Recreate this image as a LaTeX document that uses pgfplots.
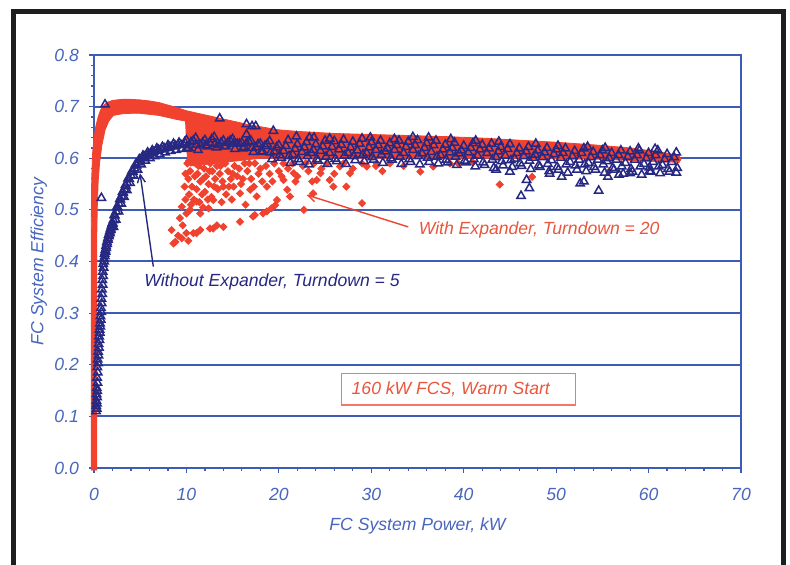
\documentclass[border=0pt]{standalone}
\usepackage{fontspec}
\setmainfont{Liberation Sans}
\usepackage{pgfplots}
\pgfplotsset{compat=1.18}
\usetikzlibrary{arrows.meta}
\definecolor{axisblue}{RGB}{62,92,182}
\definecolor{lblblue}{RGB}{72,102,190}
\definecolor{navy}{RGB}{38,40,130}
\definecolor{fcred}{RGB}{240,66,46}
\definecolor{txtred}{RGB}{235,85,60}
\definecolor{boxred}{RGB}{242,120,100}
\definecolor{framec}{RGB}{30,30,30}
\newcommand{\lblfont}{\fontsize{8.8}{10}\selectfont\itshape}
\pgfplotsset{bluetri/.style={only marks, mark=triangle, mark size=2.4pt, mark options={draw=navy, line width=0.75pt}}}
\begin{document}
\begin{tikzpicture}
\useasboundingbox (0pt,0pt) rectangle (395pt,282.5pt);
\fill[white] (0pt,0pt) rectangle (395pt,282.5pt);
\draw[framec, line width=2.5pt] (6.75pt,-3pt) -- (6.75pt,276.75pt) -- (391.65pt,276.75pt) -- (391.65pt,-3pt);
\begin{axis}[
  at={(47pt,48.5pt)}, anchor=south west,
  scale only axis, width=323.5pt, height=206.5pt,
  xmin=0, xmax=70, ymin=0, ymax=0.8,
  clip=false,
  xtick={0,10,20,30,40,50,60,70}, ytick={0,0.1,0.2,0.3,0.4,0.5,0.6,0.7,0.8},
  minor x tick num=4, minor y tick num=4,
  tick pos=left, tick align=outside,
  major tick length=2.5pt, minor tick length=1.5pt,
  every tick/.style={axisblue, line width=0.6pt},
  axis line style={axisblue, line width=1.1pt},
  ymajorgrids=true,
  major grid style={axisblue, line width=1pt},
  /pgf/number format/assume math mode=true,
  ticklabel style={font=\lblfont, text=lblblue},
  yticklabel style={/pgf/number format/.cd, fixed, fixed zerofill, precision=1, /tikz/.cd, xshift=-1.5pt},
  xticklabel style={yshift=-4pt},
  xlabel={FC System Power, kW},
  ylabel={FC System Efficiency},
  xlabel style={at={(axis description cs:0.5,-0.1508)}, anchor=base, font=\lblfont, text=lblblue},
  ylabel style={at={(axis description cs:-0.0784,0.5)}, anchor=base, font=\lblfont, text=lblblue},
]
% red dense band (With Expander)
\addplot[fill=fcred, draw=fcred, line width=0.4pt] coordinates {
(-0.3,-0.004) (-0.3,0.46) (-0.25,0.56) (-0.15,0.61) (0.0,0.64) (0.2,0.662) (0.45,0.68) (0.7,0.693)
(1.0,0.702) (1.5,0.709) (2,0.712) (3,0.714) (4,0.714) (5,0.713) (6,0.711) (7,0.708) (8,0.703)
(9,0.698) (10,0.692) (11,0.688) (12,0.684) (13,0.680) (14,0.676) (15,0.672) (16,0.668) (17,0.664)
(18,0.661) (19,0.658) (20,0.655) (22,0.652) (24,0.650) (26,0.648) (28,0.647) (30,0.646) (34,0.644)
(38,0.642) (42,0.639) (46,0.635) (50,0.631) (54,0.626) (58,0.620) (60,0.615) (62,0.610) (63.3,0.605)
(63.5,0.598) (63.3,0.592) (55,0.598) (45,0.600) (35,0.600) (25,0.600) (18,0.600) (13,0.590)
(10.4,0.585) (10.1,0.600) (9.9,0.672) (9,0.675) (8,0.679) (7,0.683) (6,0.685) (5,0.687) (4,0.687)
(3,0.686) (2.1,0.683) (1.6,0.672) (1.2,0.655) (0.85,0.625) (0.6,0.590) (0.45,0.555) (0.35,0.500)
(0.3,0.450) (0.3,-0.004)
} -- cycle;
% red scatter
\addplot[only marks, mark=square*, mark size=1.25pt, mark options={rotate=45, fill=fcred, draw=fcred}] table {
x y
8.4 0.461
8.6 0.435
8.8 0.438
9.1 0.450
9.5 0.445
9.3 0.484
9.6 0.470
10.0 0.455
10.2 0.440
10.75 0.455
11.1 0.455
11.5 0.461
12.55 0.464
12.9 0.464
13.3 0.470
14.0 0.467
15.8 0.477
17.2 0.487
17.4 0.490
18.3 0.493
18.7 0.497
19.2 0.503
19.6 0.509
19.8 0.519
20.9 0.539
21.2 0.526
22.7 0.500
23.7 0.532
24.1 0.558
29.0 0.513
9.5 0.506
10.0 0.493
10.4 0.500
11.1 0.516
11.5 0.493
12.4 0.503
12.9 0.519
13.3 0.542
15.1 0.545
15.8 0.532
16.9 0.539
17.6 0.526
18.7 0.545
20.5 0.558
21.6 0.571
23.6 0.555
24.5 0.571
25.5 0.558
25.9 0.545
26.6 0.584
27.7 0.571
27.3 0.545
29.5 0.584
30.6 0.590
10.1 0.590
10.4 0.575
10.2 0.560
10.6 0.545
10.3 0.530
10.8 0.520
10.5 0.510
11.0 0.590
11.2 0.570
11.5 0.555
11.1 0.540
11.7 0.530
11.4 0.515
11.9 0.580
12.1 0.565
12.4 0.550
12.0 0.535
12.6 0.590
12.8 0.575
13.1 0.560
12.7 0.525
13.3 0.585
13.6 0.570
13.9 0.555
13.4 0.540
14.2 0.590
14.5 0.575
14.8 0.560
14.3 0.530
15.2 0.585
15.5 0.565
15.9 0.550
16.3 0.590
16.6 0.575
17.0 0.560
17.4 0.590
17.8 0.570
18.2 0.555
18.6 0.585
19.0 0.570
19.5 0.590
20.0 0.575
20.5 0.590
21.0 0.580
21.5 0.590
22.0 0.565
22.6 0.585
23.2 0.575
23.8 0.590
24.6 0.580
25.2 0.590
26.0 0.570
27.0 0.590
28.0 0.580
29.0 0.590
30.5 0.585
31.2 0.575
32.0 0.590
33.5 0.585
35.3 0.574
36.7 0.584
38.5 0.590
39.4 0.590
41.0 0.592
43.9 0.549
47.4 0.564
55.7 0.574
9.9 0.570
9.8 0.545
9.9 0.520
10.3 0.595
10.9 0.565
11.3 0.585
11.8 0.560
12.2 0.595
12.5 0.575
13.0 0.545
13.7 0.585
14.0 0.545
14.6 0.545
15.0 0.570
15.7 0.580
16.1 0.560
16.8 0.590
17.3 0.545
18.0 0.580
19.3 0.555
20.3 0.565
21.8 0.555
22.9 0.590
13.8 0.515
12.3 0.520
11.8 0.505
14.9 0.520
16.4 0.510
};
% blue curve (Without Expander), x < 10
\addplot[bluetri] table {
x y
0.22 0.110
0.24 0.120
0.26 0.130
0.28 0.143
0.30 0.155
0.33 0.175
0.36 0.195
0.40 0.210
0.45 0.225
0.50 0.240
0.55 0.255
0.60 0.268
0.65 0.280
0.70 0.294
0.75 0.310
0.80 0.328
0.85 0.346
0.90 0.364
0.95 0.380
1.00 0.395
1.08 0.405
1.15 0.415
1.22 0.422
1.30 0.430
1.40 0.438
1.50 0.445
1.60 0.452
1.70 0.458
1.80 0.464
1.90 0.470
2.00 0.475
2.10 0.480
2.25 0.489
2.40 0.497
2.55 0.505
2.70 0.512
2.85 0.520
3.00 0.527
3.15 0.533
3.30 0.540
3.45 0.546
3.60 0.552
3.80 0.560
4.00 0.567
4.20 0.574
4.40 0.580
4.60 0.586
4.80 0.592
5.00 0.596
5.20 0.600
5.45 0.603
5.70 0.606
5.95 0.608
6.20 0.610
6.45 0.612
6.70 0.614
7.00 0.616
7.30 0.617
7.60 0.619
7.90 0.620
8.20 0.622
8.50 0.623
8.80 0.624
9.10 0.625
9.40 0.626
9.70 0.626
0.29 0.115
0.31 0.125
0.33 0.137
0.35 0.149
0.375 0.165
0.405 0.185
0.44 0.203
0.485 0.218
0.535 0.233
0.585 0.248
0.635 0.262
0.685 0.274
0.735 0.287
0.785 0.302
0.835 0.319
0.885 0.337
0.935 0.355
0.985 0.372
1.035 0.388
1.10 0.400
1.175 0.410
1.245 0.419
1.32 0.426
1.41 0.434
1.51 0.442
1.61 0.449
1.71 0.455
1.81 0.461
1.91 0.467
2.01 0.473
2.10 0.467
2.35 0.481
2.65 0.497
2.95 0.512
3.25 0.525
3.55 0.538
3.90 0.552
4.30 0.566
4.70 0.578
5.10 0.588
5.55 0.595
6.05 0.600
6.55 0.604
7.10 0.608
7.70 0.611
8.30 0.614
8.90 0.616
9.50 0.618
10.0 0.619
2.2 0.490
2.5 0.506
2.8 0.521
3.1 0.535
3.4 0.548
3.7 0.561
4.1 0.575
4.5 0.588
4.9 0.598
5.3 0.605
5.8 0.611
6.3 0.615
6.8 0.619
7.4 0.622
8.0 0.625
8.6 0.628
9.2 0.630
9.8 0.631
};
% blue band, x >= 10
\addplot[bluetri] table {
x y
10.1 0.619
11.1 0.626
12.1 0.625
13.1 0.628
14.1 0.623
15.1 0.628
16.1 0.619
17.1 0.620
18.1 0.612
19.1 0.611
20.1 0.606
21.1 0.604
22.1 0.598
23.1 0.604
24.1 0.598
25.1 0.603
26.1 0.599
27.1 0.605
28.1 0.604
29.1 0.607
30.1 0.602
31.1 0.607
32.1 0.600
33.1 0.603
34.1 0.598
35.1 0.604
36.1 0.601
37.1 0.603
38.1 0.597
39.1 0.603
40.1 0.595
41.1 0.598
42.1 0.592
43.1 0.597
44.1 0.594
45.1 0.596
46.1 0.590
47.1 0.595
48.1 0.586
49.1 0.589
50.1 0.583
51.1 0.588
52.1 0.586
53.1 0.588
54.1 0.583
55.1 0.588
56.1 0.581
57.1 0.584
58.1 0.579
59.1 0.584
60.1 0.582
61.1 0.584
62.1 0.579
63.1 0.581
10.25 0.620
11.25 0.616
12.25 0.623
13.25 0.621
14.25 0.624
15.25 0.618
16.25 0.622
17.25 0.612
18.25 0.613
19.25 0.598
20.25 0.601
21.25 0.591
22.25 0.593
23.25 0.588
24.25 0.595
25.25 0.589
26.25 0.594
27.25 0.589
28.25 0.596
29.25 0.594
30.25 0.597
31.25 0.591
32.25 0.597
33.25 0.589
34.25 0.593
35.25 0.588
36.25 0.593
37.25 0.590
38.25 0.592
39.25 0.587
40.25 0.592
41.25 0.584
42.25 0.587
43.25 0.581
44.25 0.586
45.25 0.583
46.25 0.585
47.25 0.579
48.25 0.583
49.25 0.575
50.25 0.578
51.25 0.572
52.25 0.578
53.25 0.575
54.25 0.578
55.25 0.572
56.25 0.578
57.25 0.570
58.25 0.574
59.25 0.568
60.25 0.574
61.25 0.571
62.25 0.574
63.0 0.572
10.5 0.631
11.5 0.625
12.5 0.630
13.5 0.625
14.5 0.631
15.5 0.628
16.5 0.629
17.5 0.621
18.5 0.624
19.5 0.613
20.5 0.614
21.5 0.607
22.5 0.612
23.5 0.610
24.5 0.614
25.5 0.610
26.5 0.617
27.5 0.610
28.5 0.615
29.5 0.610
30.5 0.616
31.5 0.613
32.5 0.616
33.5 0.610
34.5 0.616
35.5 0.609
36.5 0.612
37.5 0.606
38.5 0.611
39.5 0.609
40.5 0.611
41.5 0.605
42.5 0.610
43.5 0.602
44.5 0.605
45.5 0.599
46.5 0.604
47.5 0.601
48.5 0.602
49.5 0.596
50.5 0.601
51.5 0.593
52.5 0.597
53.5 0.591
54.5 0.597
55.5 0.594
56.5 0.597
57.5 0.591
58.5 0.597
59.5 0.589
60.5 0.593
61.5 0.587
62.5 0.593
10.75 0.634
11.75 0.630
12.75 0.637
13.75 0.630
14.75 0.634
15.75 0.628
16.75 0.632
17.75 0.627
18.75 0.627
19.75 0.621
20.75 0.624
21.75 0.618
22.75 0.621
23.75 0.616
24.75 0.623
25.75 0.622
26.75 0.626
27.75 0.621
28.75 0.628
29.75 0.621
30.75 0.625
31.75 0.619
32.75 0.625
33.75 0.622
34.75 0.625
35.75 0.620
36.75 0.625
37.75 0.617
38.75 0.620
39.75 0.615
40.75 0.620
41.75 0.617
42.75 0.619
43.75 0.613
44.75 0.618
45.75 0.610
46.75 0.613
47.75 0.607
48.75 0.611
49.75 0.608
50.75 0.610
51.75 0.604
52.75 0.610
53.75 0.602
54.75 0.606
55.75 0.600
56.75 0.606
57.75 0.603
58.75 0.606
59.75 0.600
60.75 0.606
61.75 0.598
62.75 0.602
10 0.635
11 0.639
12 0.635
13 0.641
14 0.634
15 0.637
16 0.630
17 0.633
18 0.628
19 0.633
20 0.625
21 0.635
22 0.627
23 0.631
24 0.627
25 0.634
26 0.633
27 0.636
28 0.632
29 0.638
30 0.631
31 0.634
32 0.629
33 0.634
34 0.632
35 0.635
36 0.629
37 0.634
38 0.626
39 0.630
40 0.624
41 0.629
42 0.626
43 0.628
44 0.622
45 0.627
46 0.619
47 0.622
48 0.615
49 0.620
50 0.617
51 0.619
52 0.614
53 0.619
54 0.612
55 0.615
56 0.610
57 0.615
58 0.613
59 0.615
60 0.610
61 0.615
62 0.608
63 0.611
1.19 0.704
0.80 0.523
13.6 0.677
16.5 0.666
17.1 0.662
17.5 0.662
16.5 0.646
19.4 0.653
21.9 0.642
23.3 0.640
23.8 0.640
25.5 0.638
29.9 0.640
32.5 0.637
34.5 0.641
36.2 0.640
38.6 0.637
41.3 0.634
43.8 0.632
47.8 0.628
50.2 0.624
53.4 0.622
55.3 0.620
58.9 0.619
60.7 0.618
46.2 0.527
47.1 0.542
46.8 0.558
52.6 0.551
53.0 0.555
54.6 0.537
50.6 0.564
55.6 0.564
58.0 0.571
45.0 0.574
43.5 0.578
49.3 0.570
56.8 0.568
60.1 0.575
};
% annotations
\draw[navy, line width=0.7pt, -{Straight Barb[length=4pt,width=4pt]}] (axis cs:6.42,0.39) -- (axis cs:4.98,0.571);
\draw[fcred, line width=0.7pt, -{Straight Barb[length=4pt,width=4pt]}] (axis cs:34.0,0.467) -- (axis cs:23.0,0.529);
\node[anchor=base, font=\lblfont, text=navy, inner sep=0pt] at (axis cs:19.26,0.352) {Without Expander, Turndown = 5};
\node[anchor=base, font=\lblfont, text=txtred, inner sep=0pt] at (axis cs:48.16,0.4527) {With Expander, Turndown = 20};
\draw[boxred, line width=0.6pt, fill=white] (axis cs:26.8,0.122) rectangle (axis cs:52.06,0.1834);
\node[anchor=base, font=\lblfont, text=txtred, inner sep=0pt] at (axis cs:38.6,0.1414) {160 kW FCS, Warm Start};
\end{axis}
\end{tikzpicture}
\end{document}
